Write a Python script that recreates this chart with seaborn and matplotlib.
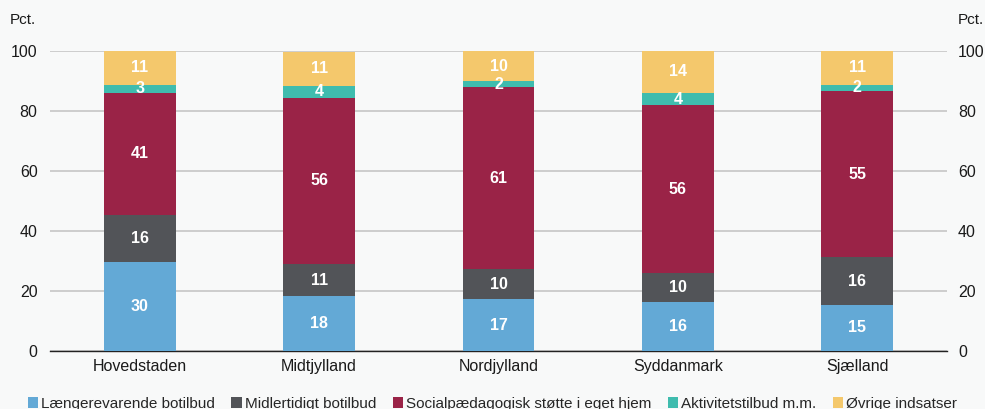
import numpy as np
import pandas as pd
import matplotlib.pyplot as plt
from matplotlib.patches import Patch
import seaborn as sns

# data (pct.), bottom to top of each bar
regions = ["Hovedstaden", "Midtjylland", "Nordjylland", "Syddanmark", "Sjælland"]
categories = [
    "Længerevarende botilbud",
    "Midlertidigt botilbud",
    "Socialpædagogisk støtte i eget hjem",
    "Aktivitetstilbud m.m.",
    "Øvrige indsatser",
]
laengerevarende = [29.7, 18.2, 17.3, 16.4, 15.4]
midlertidigt = [15.7, 10.7, 9.9, 9.6, 15.8]
socialpaed = [40.6, 55.6, 60.8, 55.9, 55.4]
aktivitet = [2.7, 3.9, 2.0, 4.2, 2.2]
oevrige = [11.3, 11.4, 10.0, 13.9, 11.2]
yticks = [0, 20, 40, 60, 80, 100]

colors = ["#63a9d6", "#525458", "#9a2347", "#3fbcae", "#f4c86c"]
bg = "#f8f9f9"

sns.set_theme(style="white")
plt.rcParams["font.family"] = ["Liberation Sans", "DejaVu Sans"]

fig, ax = plt.subplots(figsize=(9.85, 4.09), dpi=100)
fig.patch.set_facecolor(bg)
ax.set_facecolor(bg)
fig.subplots_adjust(left=0.0508, right=0.9614, top=0.8753, bottom=0.1418)

series = [laengerevarende, midlertidigt, socialpaed, aktivitet, oevrige]
bottom = np.zeros(len(regions))
for name, vals, col in zip(categories, series, colors):
    df = pd.DataFrame({"region": regions, "value": vals})
    sns.barplot(data=df, x="region", y="value", order=regions, color=col,
                width=0.4, bottom=bottom, ax=ax, errorbar=None, saturation=1,
                edgecolor="none", linewidth=0, zorder=3)
    for i, v in enumerate(vals):
        ax.text(i, bottom[i] + v / 2, f"{round(v):d}", ha="center", va="center",
                color="white", fontsize=11.5, fontweight="bold", zorder=4)
    bottom += np.array(vals)

ax.set_ylim(0, 100)
ax.set_xlim(-0.5, len(regions) - 0.5)
ax.set_yticks(yticks)
ax.yaxis.grid(True, color="#c6c6c6", linewidth=1.2, zorder=0)
ax.set_xlabel("")
ax.set_ylabel("")
for s in ["top", "left", "right"]:
    ax.spines[s].set_visible(False)
ax.spines["bottom"].set_color("#222222")
ax.spines["bottom"].set_linewidth(1.0)
ax.tick_params(axis="both", length=0, labelsize=11.5, colors="#1a1a1a")
ax.tick_params(axis="y", pad=9)
ax.tick_params(axis="x", pad=6)

ax2 = ax.twinx()
ax2.set_ylim(ax.get_ylim())
ax2.set_yticks(yticks)
for s in ax2.spines.values():
    s.set_visible(False)
ax2.tick_params(axis="y", length=0, labelsize=11.5, colors="#1a1a1a", pad=8)
ax2.grid(False)

fig.text(0.010, 0.950, "Pct.", fontsize=11, color="#1a1a1a", va="center", ha="left")
fig.text(0.972, 0.950, "Pct.", fontsize=11, color="#1a1a1a", va="center", ha="left")

handles = [Patch(facecolor=c, edgecolor="none") for c in colors]
fig.legend(handles, categories, loc="center", bbox_to_anchor=(0.5, 0.013),
           ncol=5, frameon=False, fontsize=11, handlelength=0.7, handleheight=0.7,
           handletextpad=0.2, columnspacing=1.05)

fig.savefig("out.png", dpi=100, facecolor=bg)
